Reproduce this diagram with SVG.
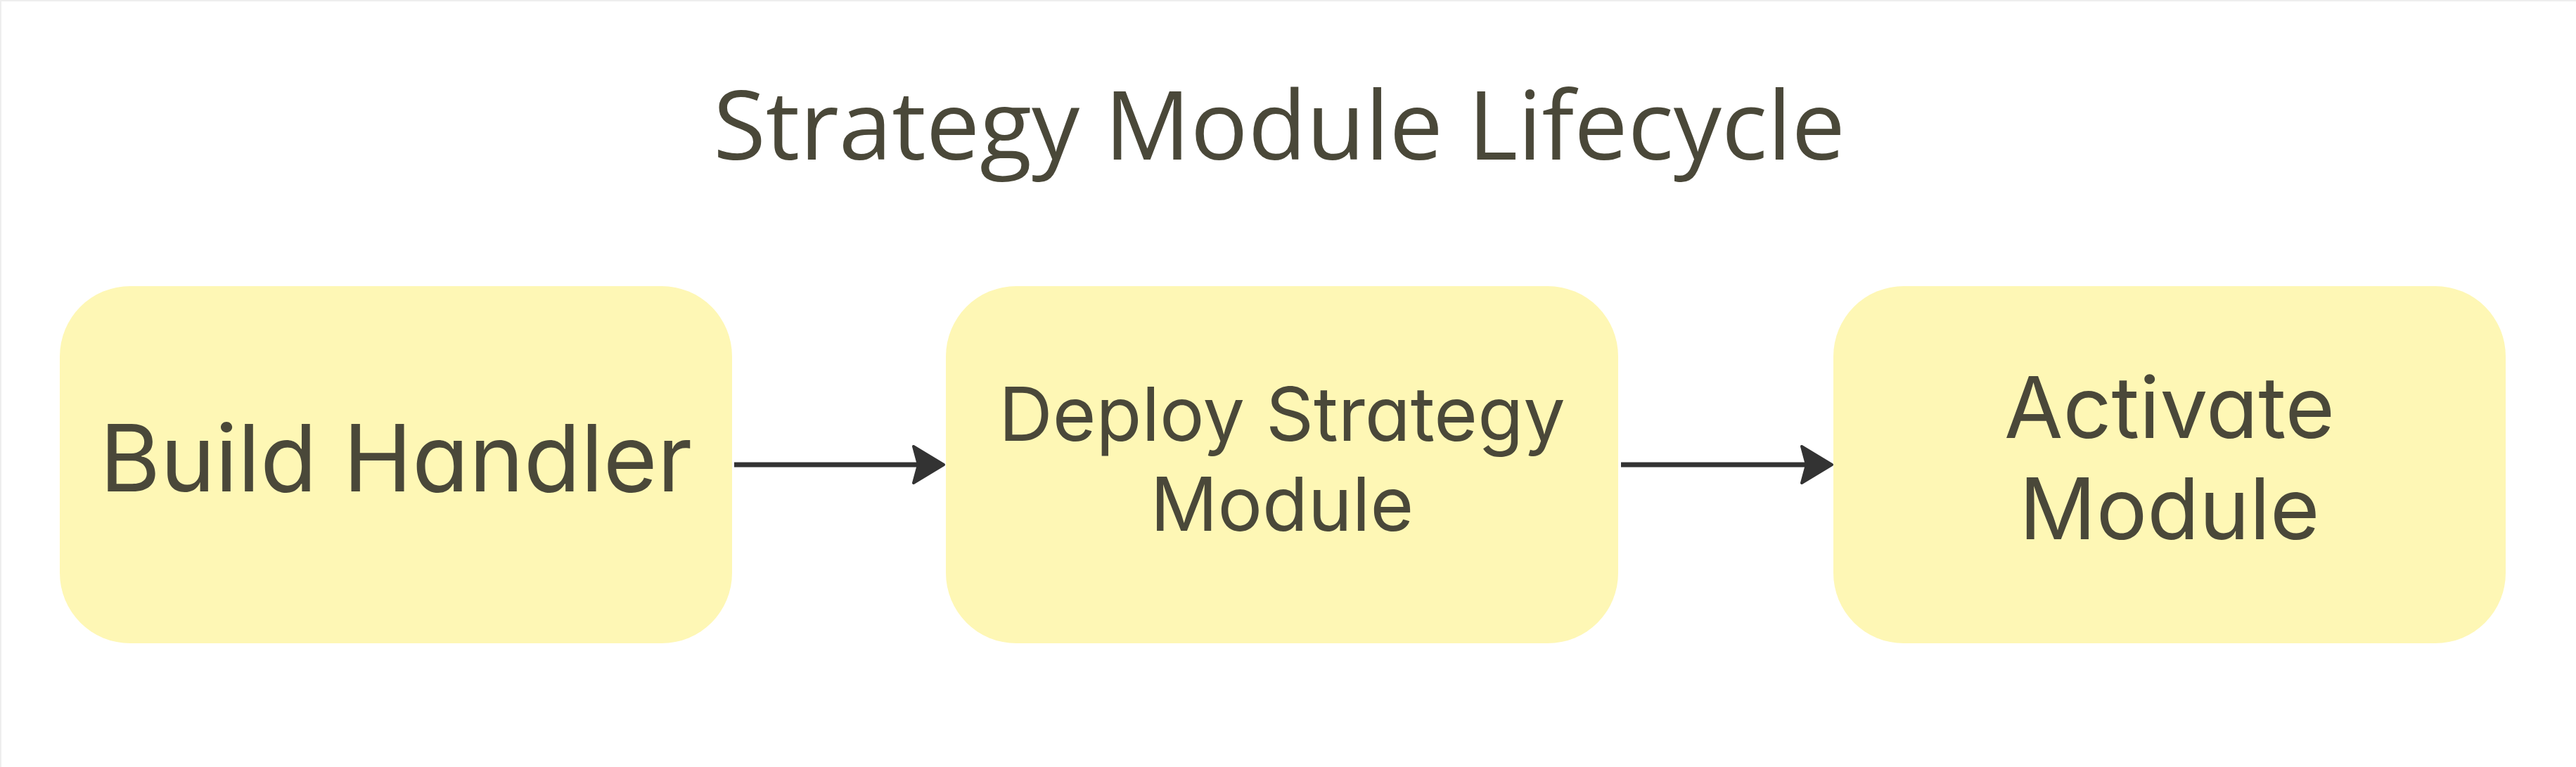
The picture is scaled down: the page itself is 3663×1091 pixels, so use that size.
<svg xmlns="http://www.w3.org/2000/svg" width="3663" height="1091" viewBox="0 0 3663 1091">
  <style>
    .bg { fill: #ffffff; }
    .frame { stroke: #eeeeee; stroke-width: 2; fill: none; }
    .title { font-family: "Open Sans", "Noto Sans", sans-serif; font-size: 136px; fill: #4a4839; text-anchor: middle; }
    .box { fill: #fef7b5; }
    .label { font-family: Inter, "Liberation Sans", sans-serif; font-feature-settings: "cv11" 1; fill: #4a4839; text-anchor: middle; }
    .edge { stroke: #333333; stroke-width: 7; fill: none; }
    .head { fill: #333333; stroke: #333333; stroke-width: 4; stroke-linejoin: round; }
  </style>
  <defs>
    <marker id="arrow" markerUnits="userSpaceOnUse" viewBox="-80 -40 100 80" markerWidth="100" markerHeight="80" refX="-24" refY="0" orient="auto" overflow="visible">
      <path class="head" d="M -45,-26 L -2,0 L -45,26 L -38,0 Z"/>
    </marker>
  </defs>
  <rect class="bg" x="0" y="0" width="3663" height="1091"/>
  <path class="frame" d="M 1,1091 L 1,1 L 3663,1"/>

  <g id="title">
    <text class="title" x="1819" y="227">Strategy Module Lifecycle</text>
  </g>

  <g id="connectors">
    <path class="edge" d="M 1044,661 L 1320,661" marker-end="url(#arrow)"/>
    <path class="edge" d="M 2305,661 L 2583,661" marker-end="url(#arrow)"/>
  </g>

  <g id="node-build-handler">
    <rect class="box" x="85" y="407" width="956" height="508" rx="100" ry="100"/>
    <text class="label" x="563" y="699" font-size="132">Build Handler</text>
  </g>

  <g id="node-deploy-strategy-module">
    <rect class="box" x="1345" y="407" width="956" height="508" rx="100" ry="100"/>
    <text class="label" x="1823" y="627" font-size="106">Deploy Strategy</text>
    <text class="label" x="1823" y="755" font-size="106">Module</text>
  </g>

  <g id="node-activate-module">
    <rect class="box" x="2607" y="407" width="956" height="508" rx="100" ry="100"/>
    <text class="label" x="3085" y="623" font-size="121">Activate</text>
    <text class="label" x="3085" y="767" font-size="121">Module</text>
  </g>
</svg>
